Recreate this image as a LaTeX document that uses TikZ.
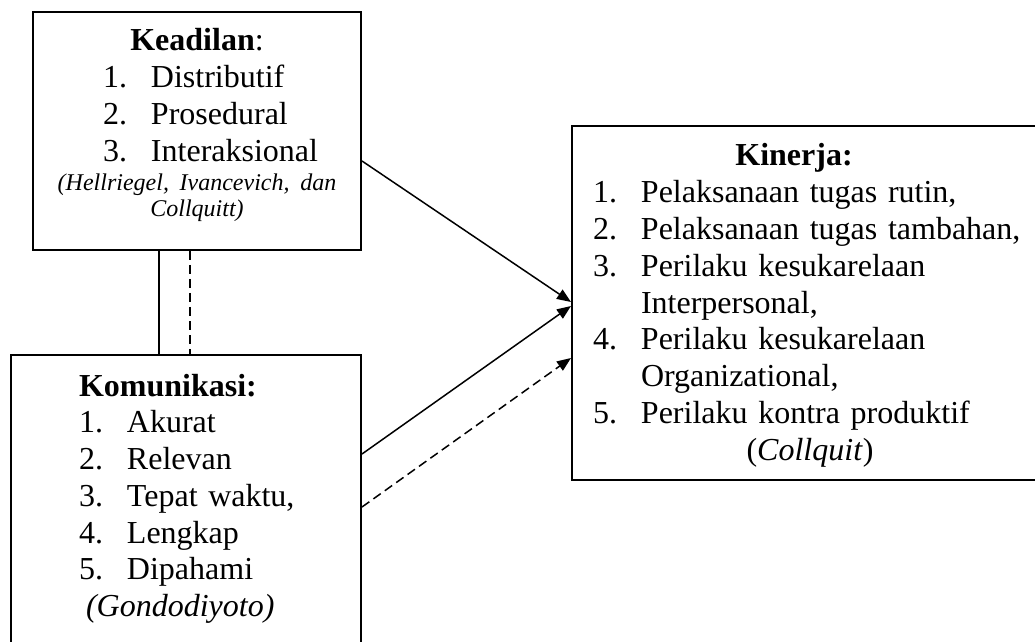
\documentclass[tikz,border=0pt]{standalone}
\usepackage{fontspec}
\setmainfont{Liberation Serif}
\usetikzlibrary{positioning,arrows.meta}
\newcommand{\itm}[2]{\makebox[24pt][l]{#1}#2}
\newcommand{\citefont}{\fontsize{12pt}{13.8pt}\selectfont\itshape}

\begin{document}
\begin{tikzpicture}[x=0.5pt,y=-0.5pt,
    varbox/.style={draw,rectangle,line width=1pt,inner sep=0pt,font=\fontsize{16pt}{18.4pt}\selectfont},
    link/.style={line width=0.75pt,-{Triangle[length=7pt,width=5.5pt]}},
    dashedlink/.style={dash pattern=on 4.5pt off 2.5pt}] %
    \useasboundingbox (0,0) rectangle (1035,642) ; %
    \node[varbox, anchor=north west, text width=164pt, align=center, text height=19.5pt, text depth=99.5pt] (keadilan) at (32,11) {%
      \textbf{Keadilan}:\\
      \makebox[94pt][l]{\itm{1.}{Distributif}}\\
      \makebox[94pt][l]{\itm{2.}{Prosedural}}\\
      \makebox[94pt][l]{\itm{3.}{Interaksional}}\\[-4pt]
      {\citefont (Hellriegel, Ivancevich, dan}\\[-5pt]
      {\citefont Collquitt)}} ; %
    \node[varbox, below=51.5pt of keadilan, xshift=-5.5pt, text width=175pt, align=left, text height=20.5pt, text depth=128.5pt] (komunikasi) {%
      \hspace*{34pt}\textbf{Komunikasi:}\\
      \hspace*{34pt}\itm{1.}{Akurat}\\
      \hspace*{34pt}\itm{2.}{Relevan}\\
      \hspace*{34pt}\itm{3.}{Tepat waktu,}\\
      \hspace*{34pt}\itm{4.}{Lengkap}\\
      \hspace*{34pt}\itm{5.}{Dipahami}\\
      \hspace*{37.5pt}\textit{(Gondodiyoto)}} ; %
    \node[varbox, right=104.5pt of keadilan, yshift=-86pt, text width=235.5pt, align=left, text height=20pt, text depth=157pt] (kinerja) {%
      \hspace*{10.5pt}\makebox[201pt][c]{\textbf{Kinerja:}}\\
      \hspace*{10.5pt}\itm{1.}{Pelaksanaan tugas rutin,}\\
      \hspace*{10.5pt}\itm{2.}{Pelaksanaan tugas tambahan,}\\
      \hspace*{10.5pt}\itm{3.}{Perilaku kesukarelaan}\\
      \hspace*{34.5pt}Interpersonal,\\
      \hspace*{10.5pt}\itm{4.}{Perilaku kesukarelaan}\\
      \hspace*{34.5pt}Organizational,\\
      \hspace*{10.5pt}\itm{5.}{Perilaku kontra produktif}\\
      \hspace*{10.5pt}\makebox[217pt][c]{(\textit{Collquit})}} ; %
    \draw[line width=1pt] ([xshift=-19pt]keadilan.south) -- ([xshift=-13.5pt]komunikasi.north) ; %
    \draw[line width=0.8pt, dashedlink] ([xshift=-3.5pt]keadilan.south) -- ([xshift=2pt]komunikasi.north) ; %
    \draw[link] ([yshift=-15pt]keadilan.east) -- ([yshift=0.5pt]kinerja.west) ; %
    \draw[link] ([yshift=-50pt]komunikasi.north east) -- ([yshift=-1.5pt]kinerja.west) ;
    \draw[link, dashedlink] ([yshift=-76.5pt]komunikasi.north east) -- ([yshift=-27.5pt]kinerja.west) ;
  \end{tikzpicture}
\end{document}
